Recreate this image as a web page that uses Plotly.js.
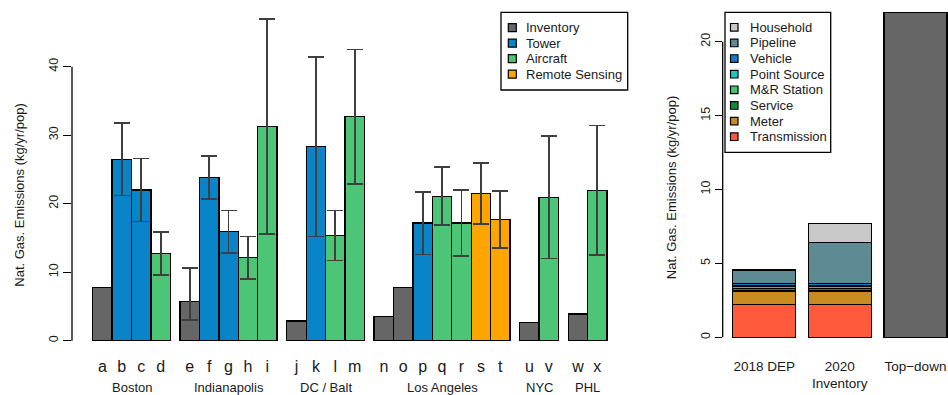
<!DOCTYPE html>
<html>
<head>
<meta charset="utf-8">
<script src="https://cdn.plot.ly/plotly-3.0.1.min.js"></script>
<style>html,body{margin:0;padding:0;background:#fff;}#chart{width:948px;height:395px;}</style>
</head>
<body>
<div id="chart"></div>
<script>
// ---------------- Left panel data ----------------
const barLetters = ['a','b','c','d','e','f','g','h','i','j','k','l','m','n','o','p','q','r','s','t','u','v','w','x'];
const cities = ['Boston','Indianapolis','DC / Balt','Los Angeles','NYC','PHL'];
const cityOfBar = [0,0,0,0, 1,1,1,1,1, 2,2,2,2, 3,3,3,3,3,3,3, 4,4, 5,5];
const methods = ['Inventory','Tower','Aircraft','Remote Sensing'];
const methodOfBar = [0,1,1,2, 0,1,1,2,2, 0,1,2,2, 0,0,1,2,2,3,3, 0,2, 0,2];
const emissions = [7.74,26.5,22.0,12.76, 5.7,23.85,15.9,12.1,31.3, 2.87,28.4,15.4,32.7, 3.56,7.74,17.2,21.1,17.2,21.5,17.7, 2.63,20.9, 3.9,21.95];
const errUpper = [null,31.8,26.6,15.9, 10.66,26.96,19.0,15.2,47.0, null,41.4,19.0,42.5, null,null,21.75,25.3,22.0,25.9,21.8, null,29.9, null,31.4];
const errLower = [null,21.2,17.4,9.55, 3.0,20.7,12.76,9.0,15.6, null,15.2,11.7,22.9, null,null,12.6,16.9,12.4,17.0,13.5, null,12.0, null,12.5];
const leftTicks = [0,10,20,30,40];

// ---------------- Right panel data ----------------
const invCategories = ['2018 DEP','2020<br>Inventory'];
const topDownLabel = 'Top\u2212down';
const sectors = ['Transmission','Meter','Service','M&R Station','Point Source','Vehicle','Pipeline','Household'];
const transmission = [2.23, 2.23];
const meter = [0.90, 0.90];
const service = [0.17, 0.17];
const mrStation = [0.12, 0.12];
const pointSource = [0.10, 0.10];
const vehicle = [0.13, 0.13];
const pipeline = [0.90, 2.75];
const household = [0.0, 1.31];
const topDown = 22.0;
const rightTicks = [0,5,10,15,20];

// ---------------- Styles ----------------
const methodColors = ['#666666','#0A84C8','#4CC577','#FFA500'];
const sectorColors = ['#FF5A3C','#C98A1E','#0B8B3D','#47C26F','#1EC6C1','#1878C4','#5E8A93','#C8C8C8'];
const FONT = 'Liberation Sans, Arial, Helvetica, sans-serif';
const W = 948, H = 395;
const px = x => x / W;
const py = y => 1 - y / H;

const pos = barLetters.map((_, i) => i + 0.5 * cityOfBar[i]);

const traces = [];
methods.forEach((m, k) => {
  const idx = [];
  methodOfBar.forEach((mm, i) => { if (mm === k) idx.push(i); });
  traces.push({
    type: 'bar', name: m, xaxis: 'x', yaxis: 'y',
    x: idx.map(i => pos[i]),
    y: idx.map(i => emissions[i]),
    width: 1,
    marker: {color: methodColors[k], line: {color: '#000', width: 1.3}},
    error_y: {
      type: 'data', symmetric: false, visible: true,
      array: idx.map(i => errUpper[i] == null ? NaN : errUpper[i] - emissions[i]),
      arrayminus: idx.map(i => errLower[i] == null ? NaN : emissions[i] - errLower[i]),
      color: '#3E3E3E', thickness: 1.8, width: 8
    },
    hoverinfo: 'x+y'
  });
});

const invPos = invCategories.map((_, i) => 0.7 + 1.2 * i);
const topDownPos = 0.7 + 1.2 * invCategories.length;
const sectorValues = [transmission, meter, service, mrStation, pointSource, vehicle, pipeline, household];
sectors.forEach((s, k) => {
  traces.push({
    type: 'bar', name: s, xaxis: 'x2', yaxis: 'y2',
    x: invPos, y: sectorValues[k], width: 1,
    marker: {color: sectorColors[k], line: {color: '#000', width: 1.3}}
  });
});
traces.push({
  type: 'bar', name: 'Top-down', xaxis: 'x2', yaxis: 'y2',
  x: [topDownPos], y: [topDown], width: 1, cliponaxis: false,
  marker: {color: '#666666', line: {color: '#000', width: 1.3}}
});

// ---------------- Layout ----------------
const shapes = [
  {type: 'line', xref: 'paper', yref: 'y', x0: px(72), x1: px(72), y0: 0, y1: 40, line: {color: '#000', width: 1.3}},
  {type: 'line', xref: 'paper', yref: 'y2', x0: px(722.7), x1: px(722.7), y0: 0, y1: 20, line: {color: '#000', width: 1.3}}
];
const annotations = [];

// Left legend (drawn manually to match compact spacing)
shapes.push({type: 'rect', xref: 'paper', yref: 'paper', x0: px(501), x1: px(627.7), y0: py(12.3), y1: py(90), line: {color: '#000', width: 1.3}, fillcolor: '#fff', layer: 'above'});
methods.forEach((m, k) => {
  const cy = 27.7 + 15.5 * k;
  shapes.push({type: 'rect', xref: 'paper', yref: 'paper', x0: px(508.3), x1: px(516.3), y0: py(cy - 4), y1: py(cy + 4), line: {color: '#000', width: 1.2}, fillcolor: methodColors[k], layer: 'above'});
  annotations.push({xref: 'paper', yref: 'paper', x: px(524), y: py(cy), xanchor: 'left', yanchor: 'middle', text: m, showarrow: false, font: {family: FONT, size: 13, color: '#1a1a1a'}});
});

// Right legend
shapes.push({type: 'rect', xref: 'paper', yref: 'paper', x0: px(725), x1: px(830.7), y0: py(12.3), y1: py(152.3), line: {color: '#000', width: 1.3}, fillcolor: '#fff', layer: 'above'});
const legendOrder = sectors.slice().reverse();
const legendColors = sectorColors.slice().reverse();
legendOrder.forEach((s, k) => {
  const cy = 27.3 + 15.63 * k;
  shapes.push({type: 'rect', xref: 'paper', yref: 'paper', x0: px(730.5), x1: px(738), y0: py(cy - 3.8), y1: py(cy + 3.8), line: {color: '#000', width: 1.2}, fillcolor: legendColors[k], layer: 'above'});
  annotations.push({xref: 'paper', yref: 'paper', x: px(747.5), y: py(cy), xanchor: 'left', yanchor: 'middle', text: s, showarrow: false, font: {family: FONT, size: 13, color: '#1a1a1a'}});
});

// City group labels
cities.forEach((c, g) => {
  const p = pos.filter((_, i) => cityOfBar[i] === g);
  const mid = (Math.min(...p) + Math.max(...p)) / 2;
  annotations.push({xref: 'x', yref: 'paper', x: mid, y: py(387.5), xanchor: 'center', yanchor: 'middle', text: c, showarrow: false, font: {family: FONT, size: 13, color: '#1a1a1a'}});
});

// Axis titles
annotations.push({xref: 'paper', yref: 'paper', x: px(18.7), y: py(195), textangle: -90, xanchor: 'center', yanchor: 'middle', text: 'Nat. Gas. Emissions (kg/yr/pop)', showarrow: false, font: {family: FONT, size: 13, color: '#1a1a1a'}});
annotations.push({xref: 'paper', yref: 'paper', x: px(671.7), y: py(187.5), textangle: -90, xanchor: 'center', yanchor: 'middle', text: 'Nat. Gas. Emissions (kg/yr/pop)', showarrow: false, font: {family: FONT, size: 13, color: '#1a1a1a'}});

const layout = {
  width: W, height: H,
  margin: {l: 0, r: 0, t: 0, b: 0},
  paper_bgcolor: '#fff', plot_bgcolor: '#fff',
  showlegend: false,
  barmode: 'stack',
  font: {family: FONT, color: '#1a1a1a'},
  xaxis: {
    domain: [px(72), px(628)], range: [-1.566, 27.08], anchor: 'y',
    tickmode: 'array', tickvals: pos, ticktext: barLetters,
    ticks: '', showline: false, showgrid: false, zeroline: false,
    tickfont: {family: FONT, size: 16, color: '#1a1a1a'}, ticklabelstandoff: 1
  },
  yaxis: {
    domain: [py(353.6), py(5.7)], range: [-1.88, 48.9], anchor: 'x',
    tickmode: 'array', tickvals: leftTicks, ticktext: leftTicks.map(String),
    ticks: 'outside', ticklen: 8, tickwidth: 1.3, tickcolor: '#000',
    tickangle: -90, showline: false, showgrid: false, zeroline: false,
    tickfont: {family: FONT, size: 12.5, color: '#1a1a1a'}
  },
  xaxis2: {
    domain: [px(722.7), 1], range: [0.041, 3.617], anchor: 'y2',
    tickmode: 'array', tickvals: invPos.concat([topDownPos]), ticktext: invCategories.concat([topDownLabel]),
    ticks: '', showline: false, showgrid: false, zeroline: false,
    tickfont: {family: FONT, size: 13.5, color: '#1a1a1a'}, ticklabelstandoff: 6
  },
  yaxis2: {
    domain: [py(350.3), py(12.1)], range: [-0.88, 22.0], anchor: 'x2',
    tickmode: 'array', tickvals: rightTicks, ticktext: rightTicks.map(String),
    ticks: 'outside', ticklen: 7, tickwidth: 1.3, tickcolor: '#000',
    tickangle: -90, showline: false, showgrid: false, zeroline: false,
    tickfont: {family: FONT, size: 12.5, color: '#1a1a1a'}
  },
  shapes: shapes,
  annotations: annotations
};

Plotly.newPlot('chart', traces, layout, {displayModeBar: false, staticPlot: true});
</script>
</body>
</html>
